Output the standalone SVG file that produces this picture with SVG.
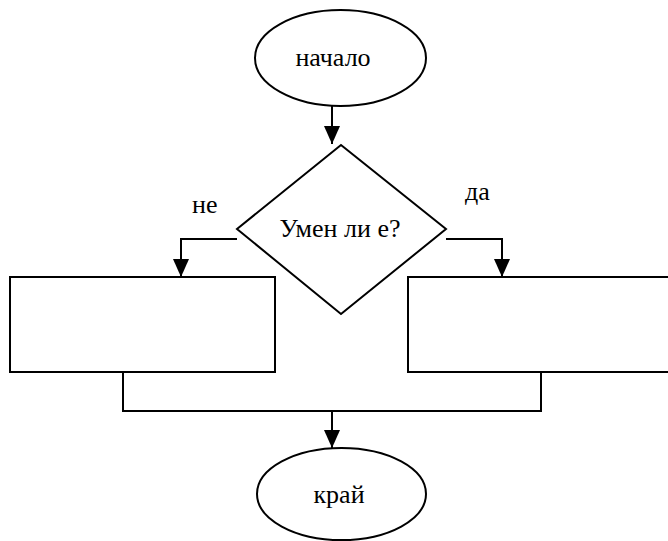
<svg xmlns="http://www.w3.org/2000/svg" width="668" height="541" viewBox="0 0 668 541">
<style>
.s{fill:#fff;stroke:#000;stroke-width:2}
.c{fill:none;stroke:#000;stroke-width:2}
.t{font-family:'Liberation Serif','Times New Roman','DejaVu Serif',serif;font-size:26px;fill:#000}
.m{text-anchor:middle}
</style>
<defs>
<marker id="ah" markerWidth="18" markerHeight="16" refX="18" refY="8" orient="auto" markerUnits="userSpaceOnUse" viewBox="0 0 18 16">
<path d="M0,0 L18,8 L0,16 Z" fill="#000"/>
</marker>
</defs>
<rect width="668" height="541" fill="#fff"/>
<g id="connectors">
<path class="c" d="M332,106 V144" marker-end="url(#ah)"/>
<path class="c" d="M237,239 H181 V277" marker-end="url(#ah)"/>
<path class="c" d="M446,239 H502 V277" marker-end="url(#ah)"/>
<path class="c" d="M123,372 V411 H541 V372"/>
<path class="c" d="M332,411 V448" marker-end="url(#ah)"/>
</g>
<g id="start">
<ellipse class="s" cx="340.5" cy="58" rx="85.5" ry="48"/>
<text class="t m" x="333" y="66">начало</text>
</g>
<g id="decision">
<polygon class="s" points="341,145 446,229 341,314 237,229"/>
<text class="t m" x="340" y="237">Умен ли е?</text>
</g>
<g id="label-no"><text class="t" x="192" y="213">не</text></g>
<g id="label-yes"><text class="t" x="465" y="200">да</text></g>
<g id="box-left">
<rect class="s" x="10" y="277" width="265" height="95"/>
</g>
<g id="box-right">
<rect class="s" x="408" y="277" width="270" height="95"/>
</g>
<g id="end">
<ellipse class="s" cx="341.5" cy="494" rx="84.5" ry="46"/>
<text class="t m" x="339" y="503">край</text>
</g>
</svg>
